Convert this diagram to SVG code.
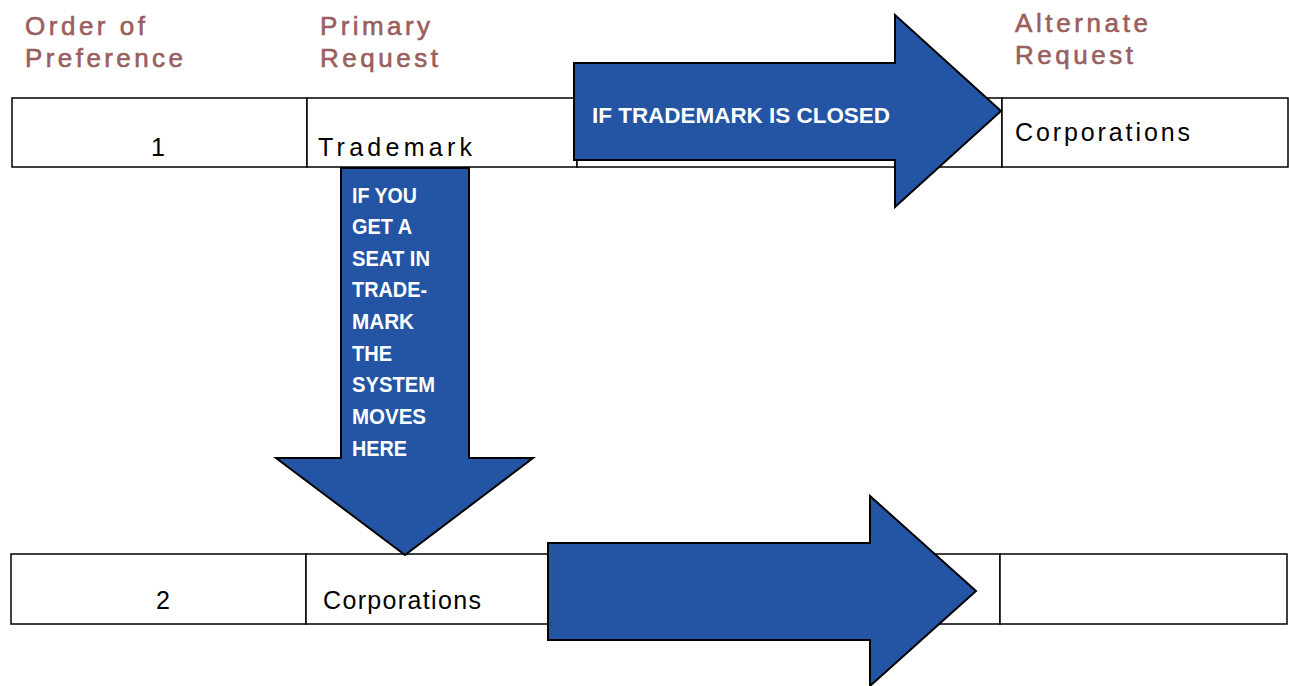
<svg xmlns="http://www.w3.org/2000/svg" width="1289" height="686" viewBox="0 0 1289 686">
<style>
.hdr{font-family:"Liberation Sans",Arial,sans-serif;font-size:26px;fill:#9a5e5e;stroke:#9a5e5e;stroke-width:0.6;}
.cell{fill:#ffffff;stroke:#000000;stroke-width:1.5;}
.ctext{font-family:"Liberation Sans",Arial,sans-serif;font-size:25px;fill:#000000;}
.arrow{fill:#2355a4;stroke:#000000;stroke-width:2;stroke-linejoin:miter;}
.atext{font-family:"Liberation Sans",Arial,sans-serif;font-size:22px;font-weight:bold;fill:#ffffff;}
</style>
<rect width="1289" height="686" fill="#ffffff"/>
<g id="headers">
<text class="hdr" x="25" y="35" textLength="120" lengthAdjust="spacing">Order of</text>
<text class="hdr" x="25" y="67" textLength="158" lengthAdjust="spacing">Preference</text>
<text class="hdr" x="320" y="35" textLength="110" lengthAdjust="spacing">Primary</text>
<text class="hdr" x="320" y="67" textLength="118" lengthAdjust="spacing">Request</text>
<text class="hdr" x="1015" y="32" textLength="133" lengthAdjust="spacing">Alternate</text>
<text class="hdr" x="1015" y="64" textLength="118" lengthAdjust="spacing">Request</text>
</g>
<g id="row1">
<g id="r1c1"><rect class="cell" x="12" y="98" width="295" height="69"/><text class="ctext" x="158" y="156" text-anchor="middle">1</text></g>
<g id="r1c2"><rect class="cell" x="307" y="98" width="270" height="69"/><text class="ctext" x="318" y="156" textLength="154" lengthAdjust="spacing">Trademark</text></g>
<g id="r1c3"><rect class="cell" x="577" y="98" width="425" height="69"/></g>
<g id="r1c4"><rect class="cell" x="1002" y="98" width="286" height="69"/><text class="ctext" x="1015" y="141" textLength="175" lengthAdjust="spacing">Corporations</text></g>
</g>
<g id="row2">
<g id="r2c1"><rect class="cell" x="11" y="554" width="295" height="70"/><text class="ctext" x="163" y="609" text-anchor="middle">2</text></g>
<g id="r2c2"><rect class="cell" x="306" y="554" width="242" height="70"/><text class="ctext" x="323" y="609" textLength="158" lengthAdjust="spacing">Corporations</text></g>
<g id="r2c3"><rect class="cell" x="548" y="554" width="452" height="70"/></g>
<g id="r2c4"><rect class="cell" x="1000" y="554" width="287" height="70"/></g>
</g>
<g id="connectors">
<g id="arrow-right-top">
<polygon class="arrow" points="574,63 895,63 895,15 1001,111 895,207 895,160 574,160"/>
<text class="atext" x="592" y="123" textLength="298" lengthAdjust="spacingAndGlyphs">IF TRADEMARK IS CLOSED</text>
</g>
<g id="arrow-down">
<polygon class="arrow" points="341,168 469,168 469,458 533,458 405,555 276,458 341,458"/>
<text class="atext" x="352" y="203" textLength="65" lengthAdjust="spacingAndGlyphs">IF YOU</text>
<text class="atext" x="352" y="234" textLength="60" lengthAdjust="spacingAndGlyphs">GET A</text>
<text class="atext" x="352" y="266" textLength="78" lengthAdjust="spacingAndGlyphs">SEAT IN</text>
<text class="atext" x="352" y="297" textLength="75" lengthAdjust="spacingAndGlyphs">TRADE-</text>
<text class="atext" x="352" y="329" textLength="62" lengthAdjust="spacingAndGlyphs">MARK</text>
<text class="atext" x="352" y="361" textLength="40" lengthAdjust="spacingAndGlyphs">THE</text>
<text class="atext" x="352" y="392" textLength="83" lengthAdjust="spacingAndGlyphs">SYSTEM</text>
<text class="atext" x="352" y="424" textLength="74" lengthAdjust="spacingAndGlyphs">MOVES</text>
<text class="atext" x="352" y="456" textLength="55" lengthAdjust="spacingAndGlyphs">HERE</text>
</g>
<g id="arrow-right-bottom">
<polygon class="arrow" points="548,543 870,543 870,496 976,591 870,686 870,640 548,640"/>
</g>
</g>
</svg>
